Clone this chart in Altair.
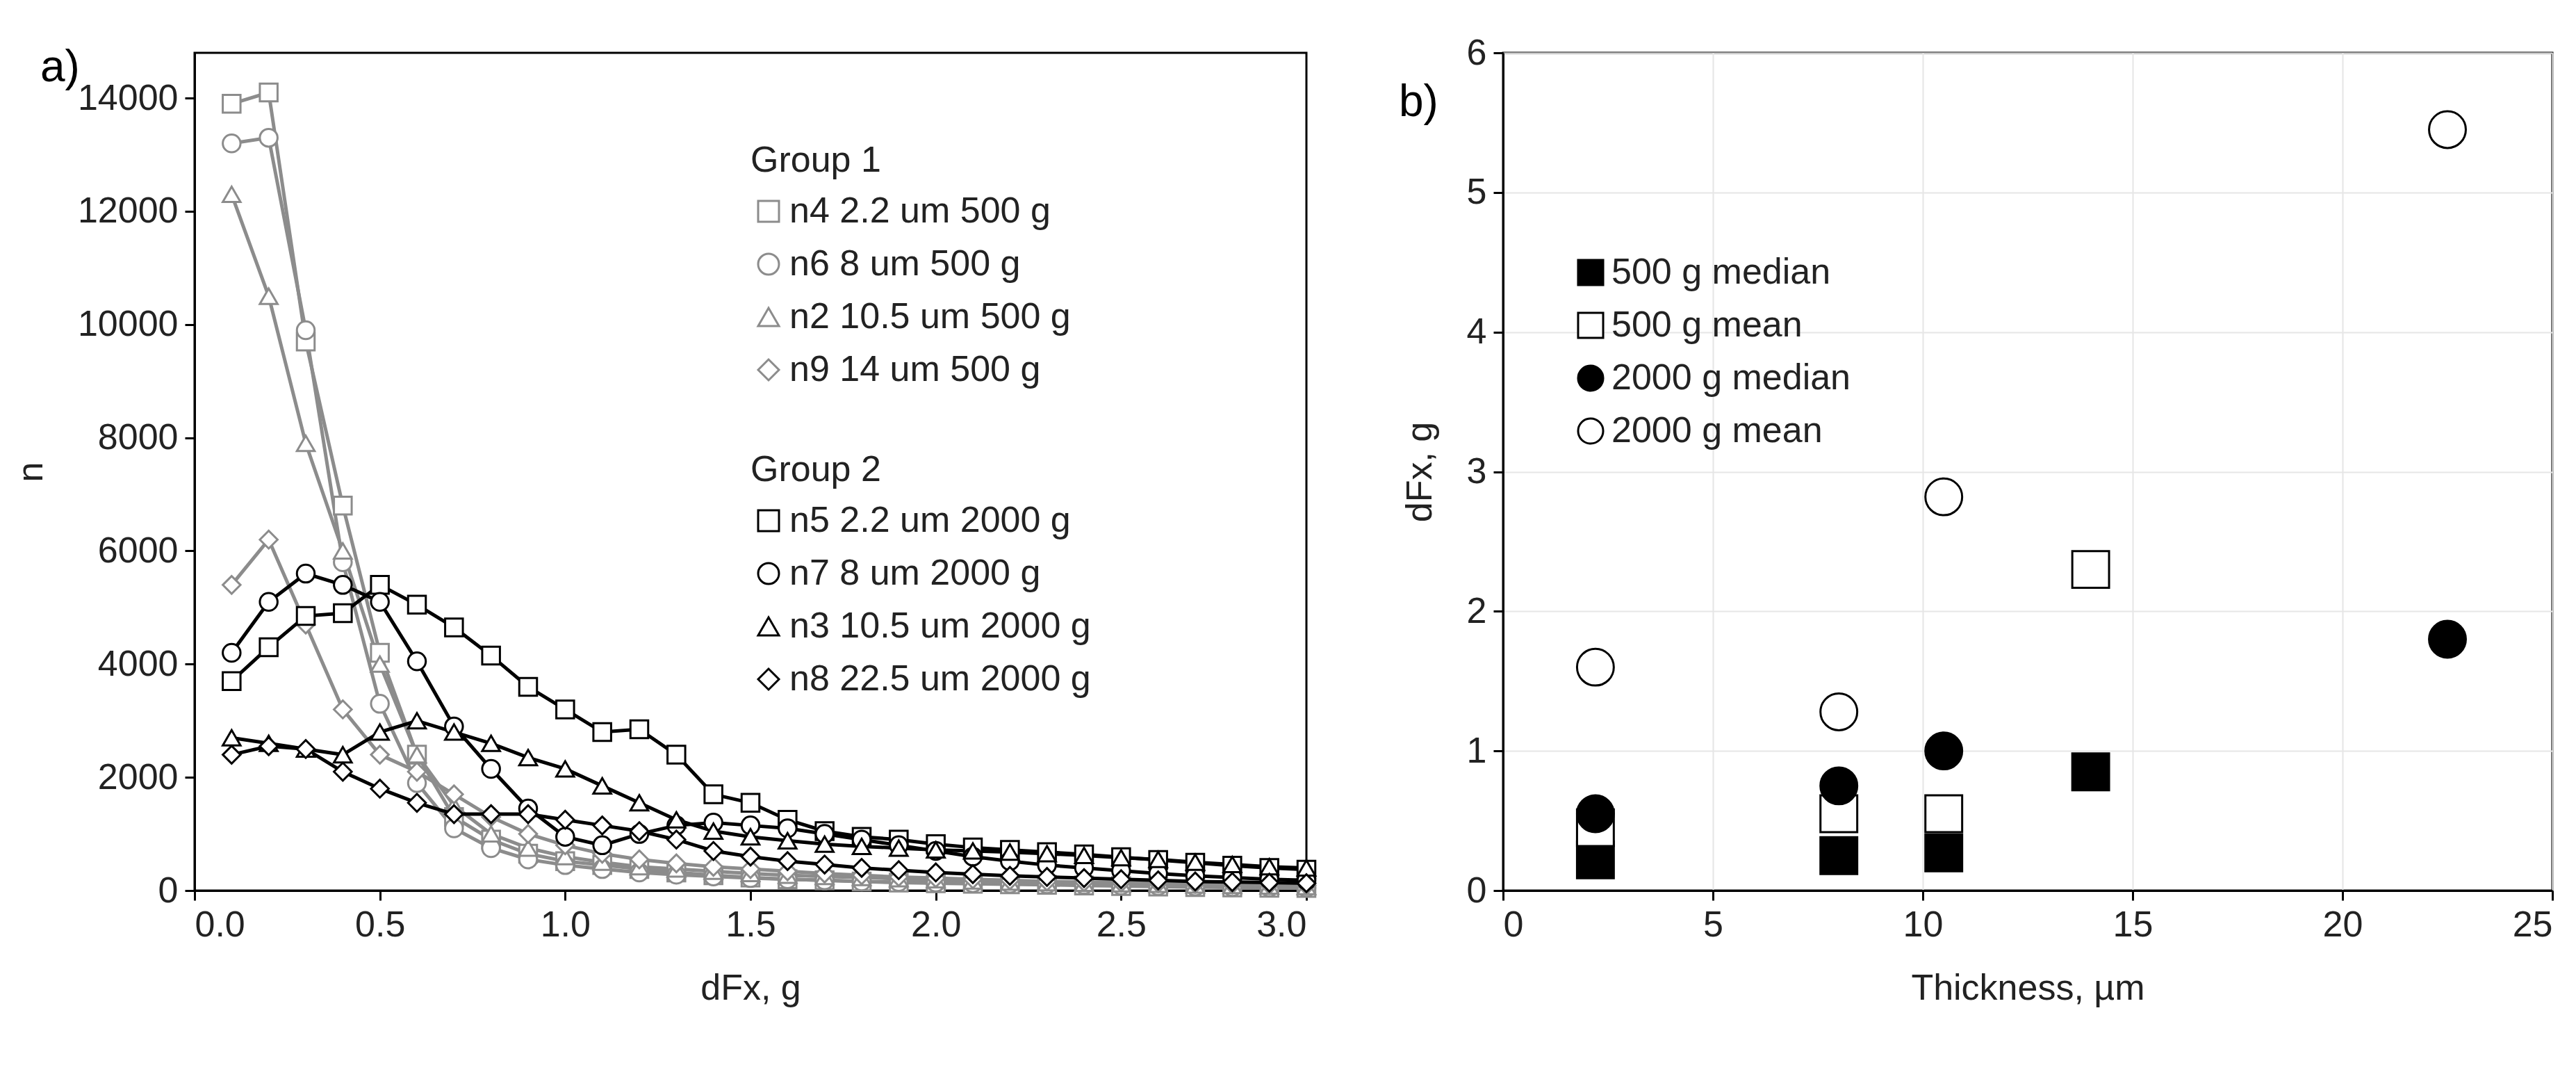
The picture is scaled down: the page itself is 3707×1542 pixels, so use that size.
import altair as alt
import pandas as pd

# panel a) : counts n vs dFx
dfx = [round(0.1 * i, 1) for i in range(1, 31)]
n4 = [13900, 14100, 9700, 6800, 4200, 2400, 1300, 900, 650, 520, 450, 380, 320, 270, 230, 200, 180, 160, 140, 130, 120, 110, 100, 90, 80, 70, 60, 55, 50, 45]
n6 = [13200, 13300, 9900, 5800, 3300, 1900, 1100, 750, 550, 450, 380, 320, 280, 250, 220, 200, 180, 160, 150, 140, 130, 120, 110, 100, 90, 80, 70, 60, 55, 50]
n2 = [12300, 10500, 7900, 6000, 4000, 2400, 1500, 1000, 750, 600, 500, 420, 380, 340, 300, 270, 250, 230, 210, 190, 170, 150, 140, 130, 120, 110, 100, 90, 80, 70]
n9 = [5400, 6200, 4700, 3200, 2400, 2100, 1700, 1300, 1000, 800, 650, 550, 480, 420, 380, 340, 300, 270, 240, 220, 200, 180, 160, 150, 140, 130, 120, 110, 100, 90]
n5 = [3700, 4300, 4850, 4900, 5400, 5050, 4650, 4150, 3600, 3200, 2800, 2850, 2400, 1700, 1550, 1250, 1050, 950, 900, 820, 760, 720, 680, 640, 590, 540, 490, 440, 400, 370]
n7 = [4200, 5100, 5600, 5400, 5100, 4050, 2900, 2150, 1450, 950, 800, 1000, 1150, 1200, 1150, 1100, 1000, 900, 800, 700, 600, 520, 450, 400, 350, 300, 260, 230, 200, 180]
n3 = [2700, 2600, 2500, 2400, 2800, 3000, 2800, 2600, 2350, 2150, 1850, 1550, 1250, 1050, 950, 880, 820, 780, 750, 720, 700, 680, 650, 620, 580, 550, 500, 460, 420, 400]
n8 = [2400, 2550, 2500, 2100, 1800, 1550, 1350, 1350, 1350, 1250, 1150, 1050, 900, 700, 600, 520, 460, 400, 360, 320, 290, 260, 240, 220, 200, 180, 160, 150, 140, 130]

g1_names = ["n4 2.2 um 500 g", "n6 8 um 500 g", "n2 10.5 um 500 g", "n9 14 um 500 g"]
g2_names = ["n5 2.2 um 2000 g", "n7 8 um 2000 g", "n3 10.5 um 2000 g", "n8 22.5 um 2000 g"]
shapes = ["square", "circle", "triangle-up", "diamond"]

# panel b) : dFx vs thickness
series_b = ["500 g median", "500 g mean", "2000 g median", "2000 g mean"]
thick_500 = [2.2, 8, 10.5, 14]
med_500 = [0.22, 0.25, 0.27, 0.85]
mean_500 = [0.45, 0.55, 0.55, 2.3]
thick_2000 = [2.2, 8, 10.5, 22.5]
med_2000 = [0.55, 0.75, 1.0, 1.8]
mean_2000 = [1.6, 1.28, 2.82, 5.45]

FONT = "Liberation Sans"
FS = 52


def long_df(names, arrays, field):
    rows = []
    for name, arr in zip(names, arrays):
        for x, y in zip(dfx, arr):
            rows.append({"dfx": x, "n": y, field: name})
    return pd.DataFrame(rows)


df1 = long_df(g1_names, [n4, n6, n2, n9], "g1")
df2 = long_df(g2_names, [n5, n7, n3, n8], "g2")

xa = alt.X("dfx:Q", scale=alt.Scale(domain=[0, 3], nice=False),
           axis=alt.Axis(title="dFx, g", values=[0, 0.5, 1, 1.5, 2, 2.5, 3], format=".1f"))
ya = alt.Y("n:Q", scale=alt.Scale(domain=[0, 14800], nice=False),
           axis=alt.Axis(title="n", values=list(range(0, 14001, 2000)), format="d", titlePadding=40))


def group_layer(df, names, field, col, title, ly):
    lines = alt.Chart(df).mark_line(strokeWidth=5, color=col).encode(
        x=xa, y=ya, detail=f"{field}:N")
    pts = alt.Chart(df).mark_point(size=650, filled=True, fill="white",
                                   strokeWidth=3, opacity=1).encode(
        x=xa, y=ya,
        shape=alt.Shape(f"{field}:N", scale=alt.Scale(domain=names, range=shapes),
                        legend=alt.Legend(title=title, orient="none", legendX=800, legendY=ly,
                                          symbolSize=900, symbolStrokeWidth=3, labelLimit=0,
                                          titleLimit=0)),
        stroke=alt.Stroke(f"{field}:N", scale=alt.Scale(domain=names, range=[col] * 4)),
    )
    return lines + pts


left = alt.layer(
    group_layer(df1, g1_names, "g1", "#8c8c8c", "Group 1", 130),
    group_layer(df2, g2_names, "g2", "#000000", "Group 2", 575),
    alt.Chart(pd.DataFrame({"t": ["a)"]})).mark_text(
        font=FONT, fontSize=64, align="left", baseline="top").encode(
        text="t:N", x=alt.value(-222), y=alt.value(-10)),
).resolve_scale(shape="independent", stroke="independent").properties(width=1600, height=1205)

rows_b = []
for name, xs, ys in [("500 g median", thick_500, med_500), ("500 g mean", thick_500, mean_500),
                     ("2000 g median", thick_2000, med_2000), ("2000 g mean", thick_2000, mean_2000)]:
    for x, y in zip(xs, ys):
        rows_b.append({"thick": x, "val": y, "sb": name})
dfb = pd.DataFrame(rows_b)

bleg = alt.Legend(title=None, orient="none", legendX=100, legendY=290,
                  symbolSize=1300, symbolStrokeWidth=3, labelLimit=0)
right_pts = alt.Chart(dfb).mark_point(size=2800, strokeWidth=3, opacity=1, filled=True).encode(
    x=alt.X("thick:Q", scale=alt.Scale(domain=[0, 25], nice=False),
            axis=alt.Axis(title="Thickness, µm", values=[0, 5, 10, 15, 20, 25], grid=True,
                          gridColor="#e6e6e6", gridWidth=2)),
    y=alt.Y("val:Q", scale=alt.Scale(domain=[0, 6], nice=False),
            axis=alt.Axis(title="dFx, g", values=[0, 1, 2, 3, 4, 5, 6], titlePadding=40, grid=True,
                          gridColor="#e6e6e6", gridWidth=2)),
    shape=alt.Shape("sb:N", scale=alt.Scale(domain=series_b, range=["square", "square", "circle", "circle"]),
                    legend=bleg),
    fill=alt.Fill("sb:N", scale=alt.Scale(domain=series_b, range=["black", "white", "black", "white"]),
                  legend=bleg),
    stroke=alt.Stroke("sb:N", scale=alt.Scale(domain=series_b, range=["black"] * 4), legend=bleg),
)
right = alt.layer(
    right_pts,
    alt.Chart(pd.DataFrame({"t": ["b)"]})).mark_text(
        font=FONT, fontSize=64, align="left", baseline="top").encode(
        text="t:N", x=alt.value(-150), y=alt.value(40)),
).properties(width=1510, height=1205)

chart = alt.hconcat(left, right, spacing=110).resolve_scale(
    shape="independent", fill="independent", stroke="independent"
).configure_view(
    stroke="black", strokeWidth=3
).configure_axis(
    labelFont=FONT, titleFont=FONT, labelFontSize=FS, titleFontSize=FS, titleFontWeight="normal",
    labelColor="#222", titleColor="#222", domainColor="black", domainWidth=3, tickColor="black",
    tickWidth=3, tickSize=14, labelPadding=10, titlePadding=40, grid=False
).configure_legend(
    labelFont=FONT, titleFont=FONT, labelFontSize=FS, titleFontSize=FS, titleFontWeight="normal",
    labelColor="#222", titleColor="#222", rowPadding=24, titlePadding=20
).properties(padding={"left": 8, "top": 40, "right": 10, "bottom": 10})

chart.save("out.html", embed_options={"renderer": "svg", "actions": False})
